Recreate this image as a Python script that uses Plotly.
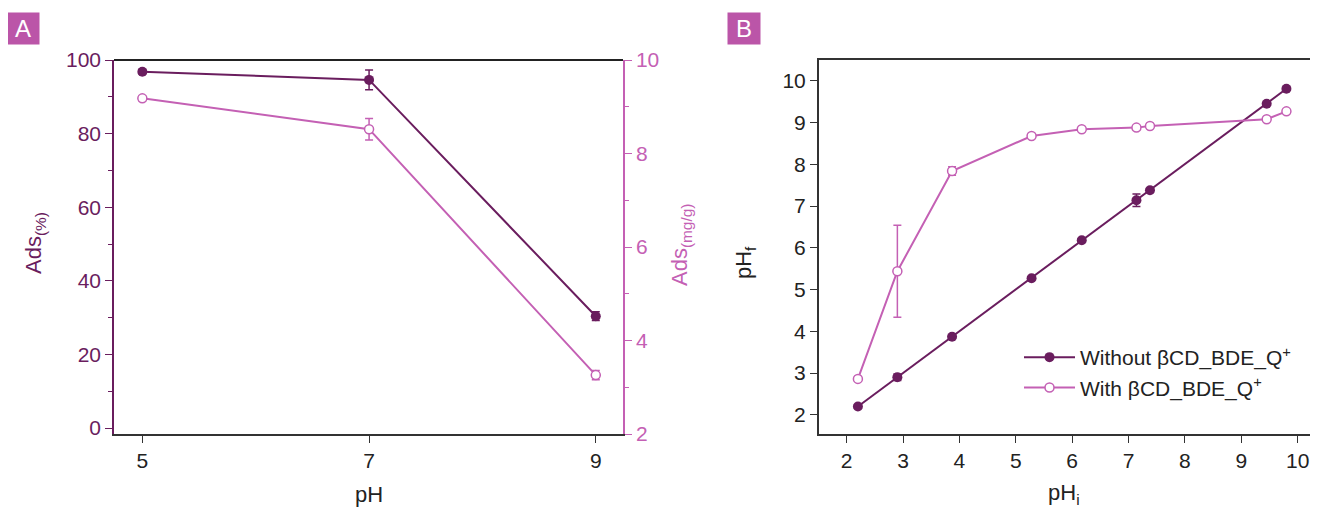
import plotly.graph_objects as go

# Panel A: adsorption vs pH
ph_a = [5, 7, 9]
ads_pct = [96.8, 94.6, 30.4]
ads_pct_err = [0.6, 2.7, 1.2]
ads_mgg = [9.18, 8.52, 3.26]
ads_mgg_err = [0.05, 0.23, 0.1]

# Panel B: final pH vs initial pH
ph_i = [2.2, 2.9, 3.87, 5.28, 6.17, 7.14, 7.38, 9.45, 9.8]
ph_f_without = [2.2, 2.9, 3.87, 5.27, 6.18, 7.14, 7.38, 9.45, 9.81]
ph_f_without_err = [0.03, 0.08, 0.03, 0.03, 0.03, 0.15, 0.03, 0.03, 0.03]
ph_f_with = [2.86, 5.44, 7.84, 8.68, 8.84, 8.88, 8.92, 9.08, 9.27]
ph_f_with_err = [0.05, 1.1, 0.1, 0.05, 0.05, 0.05, 0.05, 0.05, 0.05]

DARK = "#6a1d5e"
PINK = "#c460b4"
FONT = "Liberation Sans, Arial, sans-serif"

# page has an 8px body margin, so the figure is drawn at (8, 8)
W, H = 1310, 500
OFF = 8
TOP, BOT = 60, 434  # plot area in screen pixels


def px(x):
    return (x - OFF) / W


def py(y):
    return (BOT - y) / (BOT - TOP)


fig = go.Figure()

fig.add_trace(go.Scatter(
    x=ph_a, y=ads_pct, xaxis="x", yaxis="y", mode="lines+markers",
    line=dict(color=DARK, width=2), marker=dict(size=10, color=DARK),
    error_y=dict(array=ads_pct_err, color=DARK, thickness=1.5, width=4),
    showlegend=False))
fig.add_trace(go.Scatter(
    x=ph_a, y=ads_mgg, xaxis="x", yaxis="y2", mode="lines+markers",
    line=dict(color=PINK, width=2),
    marker=dict(size=9, color="white", line=dict(color=PINK, width=1.5)),
    error_y=dict(array=ads_mgg_err, color=PINK, thickness=1.5, width=4),
    showlegend=False))

fig.add_trace(go.Scatter(
    x=ph_i, y=ph_f_without, xaxis="x2", yaxis="y3", mode="lines+markers",
    name="Without βCD_BDE_Q<sup>+</sup>",
    line=dict(color=DARK, width=2), marker=dict(size=10, color=DARK),
    error_y=dict(array=ph_f_without_err, color=DARK, thickness=1.5, width=4)))
fig.add_trace(go.Scatter(
    x=ph_i, y=ph_f_with, xaxis="x2", yaxis="y3", mode="lines+markers",
    name="With βCD_BDE_Q<sup>+</sup>",
    line=dict(color=PINK, width=2),
    marker=dict(size=9, color="white", line=dict(color=PINK, width=1.5)),
    error_y=dict(array=ph_f_with_err, color=PINK, thickness=1.5, width=4)))

tickfont = dict(family=FONT, size=21, color="#222")

fig.update_layout(
    width=W, height=H,
    margin=dict(l=0, r=0, t=TOP - OFF, b=H - (BOT - OFF)),
    plot_bgcolor="white", paper_bgcolor="white",
    font=dict(family=FONT, size=21, color="#222"),
    xaxis=dict(domain=[px(114), px(623)], range=[4.75, 9.24],
               tickvals=[5, 7, 9], ticks="outside", ticklen=7, tickcolor="#333",
               showline=True, linecolor="#333", linewidth=2,
               showgrid=False, zeroline=False, tickfont=tickfont,
               anchor="y"),
    yaxis=dict(domain=[0, 1], range=[-1.6, 100], dtick=20,
               ticks="outside", ticklen=7, tickcolor=DARK,
               showline=True, linecolor=DARK, linewidth=1.5,
               minor=dict(ticks="outside", ticklen=4, tickcolor=DARK, dtick=10),
               showgrid=False, zeroline=False,
               tickfont=dict(family=FONT, size=21, color=DARK), anchor="x"),
    yaxis2=dict(range=[2, 10], dtick=2, overlaying="y", side="right",
                anchor="x", ticks="outside", ticklen=7, tickcolor=PINK,
                showline=True, linecolor=PINK, linewidth=1.5,
                minor=dict(ticks="outside", ticklen=4, tickcolor=PINK, dtick=1),
                showgrid=False, zeroline=False,
                tickfont=dict(family=FONT, size=21, color=PINK)),
    xaxis2=dict(domain=[px(819), 1.0], range=[1.51, 10.36], dtick=1,
                ticks="outside", ticklen=7, tickcolor="#333",
                showline=True, linecolor="#333", linewidth=2, mirror=True,
                showgrid=False, zeroline=False, tickfont=tickfont, anchor="y3"),
    yaxis3=dict(domain=[0, 1], range=[1.54, 10.5], dtick=1,
                ticks="outside", ticklen=7, tickcolor="#333",
                showline=True, linecolor="#333", linewidth=2,
                showgrid=False, zeroline=False, tickfont=tickfont, anchor="x2"),
    legend=dict(x=px(1019), y=py(337), xanchor="left", yanchor="top",
                bgcolor="rgba(0,0,0,0)", font=dict(family=FONT, size=21, color="#222"),
                tracegroupgap=0, itemwidth=51),
)

# top border of panel A
fig.add_shape(type="line", xref="paper", yref="paper",
              x0=px(114), x1=px(623), y0=1, y1=1,
              line=dict(color="#222", width=2))

annots = [
    dict(x=35, y=243, text="Ads<sub>(%)</sub>", textangle=-90, color=DARK),
    dict(x=681, y=245, text="Ads<sub>(mg/g)</sub>", textangle=-90, color=PINK),
    dict(x=369, y=494, text="pH", textangle=0, color="#222"),
    dict(x=745, y=262, text="pH<sub>f</sub>", textangle=-90, color="#222"),
    dict(x=1064, y=494, text="pH<sub>i</sub>", textangle=0, color="#222"),
]
for a in annots:
    fig.add_annotation(x=px(a["x"]), y=py(a["y"]),
                       xref="paper", yref="paper", showarrow=False,
                       text=a["text"], textangle=a["textangle"],
                       font=dict(family=FONT, size=22, color=a["color"]),
                       xanchor="center", yanchor="middle")

for lbl, cx in [("A", 23), ("B", 744)]:
    fig.add_annotation(x=px(cx), y=py(28), xref="paper", yref="paper",
                       showarrow=False, text=lbl,
                       font=dict(family=FONT, size=24, color="white"),
                       bgcolor="#bb55a8", borderpad=2, width=28, height=27,
                       xanchor="center", yanchor="middle")

fig.write_html("out.html")
